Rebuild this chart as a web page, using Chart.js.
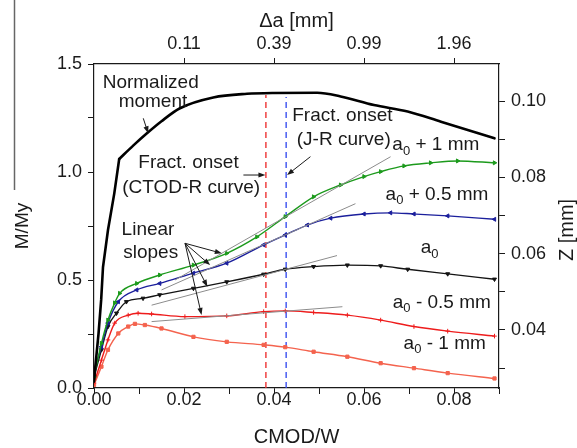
<!DOCTYPE html>
<html>
<head>
<meta charset="utf-8">
<script src="https://cdn.jsdelivr.net/npm/chart.js@4.4.1/dist/chart.umd.min.js"></script>
<style>
  html, body { margin: 0; padding: 0; background: #fff; }
  #wrap { width: 577px; height: 448px; }
</style>
</head>
<body>
<div id="wrap"><canvas id="chart" width="577" height="448"></canvas></div>
<script>
// Normalized moment M/My vs CMOD/W (left axis)
const momentX = [0, 0.0003, 0.001, 0.0016, 0.002, 0.0031, 0.0045, 0.0056, 0.0087, 0.0117, 0.015, 0.0191, 0.0265, 0.034, 0.040, 0.0496, 0.0548, 0.0622, 0.0697, 0.0771, 0.089];
const momentY = [0.03, 0.10, 0.25, 0.41, 0.56, 0.73, 0.90, 1.06, 1.122, 1.178, 1.235, 1.295, 1.345, 1.362, 1.366, 1.367, 1.35, 1.31, 1.28, 1.233, 1.156];
const momentKnee = 7; // index of the sharp knee

// Z [mm] curves (right axis)
const plus1X = [0, 0.00165, 0.0031, 0.0046, 0.0057, 0.0095, 0.0146, 0.0221, 0.0295, 0.0362, 0.0425, 0.0488, 0.0548, 0.0600, 0.0637, 0.0689, 0.0748, 0.0808, 0.0890];
const plus1Y = [0.0277, 0.0365, 0.0426, 0.0471, 0.0496, 0.0522, 0.0544, 0.0570, 0.0601, 0.0644, 0.0697, 0.0749, 0.0780, 0.0802, 0.0815, 0.0830, 0.0838, 0.0843, 0.0838];

const plus05X = [0, 0.00165, 0.0031, 0.0054, 0.0095, 0.0146, 0.0221, 0.0295, 0.0377, 0.0425, 0.0474, 0.0526, 0.0600, 0.0659, 0.0711, 0.0786, 0.0890];
const plus05Y = [0.0290, 0.0356, 0.0418, 0.0474, 0.0505, 0.0522, 0.0549, 0.0575, 0.0623, 0.0649, 0.0675, 0.0693, 0.0704, 0.0707, 0.0704, 0.0699, 0.0690];

const a0X = [0, 0.00165, 0.0031, 0.0050, 0.0072, 0.0109, 0.0146, 0.0221, 0.0295, 0.0377, 0.0425, 0.0488, 0.0563, 0.0637, 0.0697, 0.0786, 0.0890];
const a0Y = [0.0277, 0.0348, 0.0409, 0.0444, 0.0474, 0.0483, 0.0492, 0.0509, 0.0526, 0.0546, 0.0559, 0.0566, 0.0570, 0.0568, 0.0559, 0.0547, 0.0533];

const minus05X = [0, 0.00165, 0.0031, 0.0046, 0.0076, 0.0098, 0.0128, 0.0202, 0.0295, 0.0377, 0.0425, 0.0488, 0.0563, 0.0637, 0.0711, 0.0786, 0.0890];
const minus05Y = [0.0261, 0.0321, 0.0374, 0.0418, 0.0439, 0.0444, 0.0442, 0.0435, 0.0437, 0.0448, 0.0450, 0.0446, 0.0439, 0.0426, 0.0409, 0.0397, 0.0384];

const minus1X = [0, 0.00165, 0.0031, 0.0054, 0.0076, 0.0091, 0.0113, 0.0150, 0.0221, 0.0295, 0.0377, 0.0425, 0.0488, 0.0563, 0.0637, 0.0711, 0.0786, 0.0890];
const minus1Y = [0.0256, 0.0304, 0.0348, 0.0391, 0.0409, 0.0416, 0.0413, 0.0404, 0.0382, 0.0369, 0.0361, 0.0355, 0.0343, 0.0330, 0.0313, 0.0300, 0.0287, 0.0273];

// linear slopes (thin gray), start/end on the right axis
const slopePlus1X = [0.0180, 0.0659], slopePlus1Y = [0.0531, 0.0854];
const slopePlus05X = [0.0150, 0.0581], slopePlus05Y = [0.0505, 0.0731];
const slopeA0X = [0.0128, 0.0540], slopeA0Y = [0.0465, 0.0595];
const slopeMinus05X = [0.0128, 0.0552], slopeMinus05Y = [0.0422, 0.0461];

// fracture onset (CMOD/W) and top of the dashed lines (M/My)
const onsetCtod = 0.0382, onsetCtodTop = 1.356;
const onsetJr = 0.0427, onsetJrTop = 1.347;

// ticks
const bottomTicks = [0, 0.01, 0.02, 0.03, 0.04, 0.05, 0.06, 0.07, 0.08, 0.09];
const topTicks = [0.02, 0.04, 0.06, 0.08];
const topTickLabels = ['0.11', '0.39', '0.99', '1.96'];
const leftTicks = [0, 0.25, 0.5, 0.75, 1.0, 1.25, 1.5];
const rightTicks = [0.03, 0.04, 0.05, 0.06, 0.07, 0.08, 0.09, 0.10];

const FONT = "'Liberation Sans', Arial, Helvetica, sans-serif";
const INK = '#1a1a1a';

const pts = (xs, ys) => xs.map((x, i) => ({ x: x, y: ys[i] }));

// text notes, in CMOD/W and M/My units
const notes = [
    { text: 'Normalized', x: 0.0126, y: 1.412 },
    { text: 'moment', x: 0.0131, y: 1.324 },
    { text: 'Fract. onset', x: 0.0210, y: 1.042 },
    { text: '(CTOD-R curve)', x: 0.0216, y: 0.925 },
    { text: 'Fract. onset', x: 0.0552, y: 1.259 },
    { text: '(J-R curve)', x: 0.0555, y: 1.148 },
    { text: 'Linear', x: 0.0120, y: 0.731 },
    { text: 'slopes', x: 0.0126, y: 0.624 }
];
const curveNotes = [
    { rest: ' + 1 mm', x: 0.0663, y: 1.125 },
    { rest: ' + 0.5 mm', x: 0.0648, y: 0.894 },
    { rest: '', x: 0.0726, y: 0.648 },
    { rest: ' - 0.5 mm', x: 0.0664, y: 0.394 },
    { rest: ' - 1 mm', x: 0.0688, y: 0.207 }
];
const arrows = [
    [0.01095, 1.2486, 0.01204, 1.179],
    [0.0332, 0.986, 0.0381, 0.986],
    [0.0481, 1.071, 0.0429, 0.986],
    [0.02022, 0.670, 0.0284, 0.6236],
    [0.02022, 0.670, 0.0258, 0.569],
    [0.02022, 0.670, 0.0252, 0.469],
    [0.02022, 0.670, 0.0239, 0.338]
];

function drawArrow(ctx, x1, y1, x2, y2) {
    const ang = Math.atan2(y2 - y1, x2 - x1);
    const len = 7, half = 2.6;
    ctx.beginPath();
    ctx.moveTo(x1, y1);
    ctx.lineTo(x2 - Math.cos(ang) * len * 0.8, y2 - Math.sin(ang) * len * 0.8);
    ctx.stroke();
    ctx.beginPath();
    ctx.moveTo(x2, y2);
    ctx.lineTo(x2 - Math.cos(ang) * len - Math.sin(ang) * half, y2 - Math.sin(ang) * len + Math.cos(ang) * half);
    ctx.lineTo(x2 - Math.cos(ang) * len + Math.sin(ang) * half, y2 - Math.sin(ang) * len - Math.cos(ang) * half);
    ctx.closePath();
    ctx.fill();
}

const notesPlugin = {
    id: 'notes',
    afterDatasetsDraw(chart) {
        const { ctx, chartArea } = chart;
        const sx = chart.scales.x, sy = chart.scales.y;
        ctx.save();
        ctx.fillStyle = INK;
        ctx.strokeStyle = INK;
        ctx.lineWidth = 1;
        ctx.textBaseline = 'middle';

        ctx.font = '19px ' + FONT;
        ctx.textAlign = 'center';
        notes.forEach(n => ctx.fillText(n.text, sx.getPixelForValue(n.x), sy.getPixelForValue(n.y)));

        // a0 labels with subscript
        ctx.textAlign = 'left';
        curveNotes.forEach(n => {
            let px = sx.getPixelForValue(n.x);
            const py = sy.getPixelForValue(n.y);
            ctx.font = '19px ' + FONT;
            ctx.fillText('a', px, py);
            px += ctx.measureText('a').width;
            ctx.font = '13px ' + FONT;
            ctx.fillText('0', px, py + 6);
            px += ctx.measureText('0').width;
            ctx.font = '19px ' + FONT;
            ctx.fillText(n.rest, px, py);
        });

        arrows.forEach(a => drawArrow(ctx,
            sx.getPixelForValue(a[0]), sy.getPixelForValue(a[1]),
            sx.getPixelForValue(a[2]), sy.getPixelForValue(a[3])));

        // right axis title, reads bottom to top
        ctx.font = '20px ' + FONT;
        ctx.textAlign = 'center';
        ctx.translate(chartArea.right + 68, (chartArea.top + chartArea.bottom) / 2 + 4);
        ctx.rotate(-Math.PI / 2);
        ctx.fillText('Z [mm]', 0, 0);
        ctx.restore();

        // edge of the neighbouring panel in the scan
        ctx.save();
        ctx.strokeStyle = '#666';
        ctx.lineWidth = 1.5;
        ctx.beginPath();
        ctx.moveTo(14.5, 0);
        ctx.lineTo(14.5, 190);
        ctx.stroke();
        ctx.restore();
    }
};

function zSeries(label, xs, ys, color, style, rot) {
    return {
        label: label,
        data: pts(xs, ys),
        yAxisID: 'y1',
        borderColor: color,
        backgroundColor: color,
        borderWidth: 1.4,
        pointStyle: style,
        rotation: rot,
        pointRadius: 2.3,
        pointBorderWidth: 1,
        cubicInterpolationMode: 'monotone'
    };
}

function slope(xs, ys) {
    return {
        data: pts(xs, ys),
        yAxisID: 'y1',
        borderColor: '#8c8c8c',
        borderWidth: 1,
        pointRadius: 0
    };
}

function onset(x, top, color) {
    return {
        data: [{ x: x, y: 0 }, { x: x, y: top }],
        yAxisID: 'y',
        borderColor: color,
        borderWidth: 1.4,
        borderDash: [6, 4],
        pointRadius: 0
    };
}

// the moment curve: straight rise up to the knee, smooth after it
function momentPart(from, to, smooth) {
    return {
        label: 'Normalized moment',
        data: pts(momentX.slice(from, to), momentY.slice(from, to)),
        yAxisID: 'y',
        borderColor: '#000',
        borderWidth: 2.6,
        borderCapStyle: 'round',
        pointRadius: 0,
        cubicInterpolationMode: smooth ? 'monotone' : 'default',
        tension: 0
    };
}

const tickFont = { family: FONT, size: 18, lineHeight: 1 };
const titleFont = { family: FONT, size: 20, lineHeight: 1 };
const gridOpts = { drawOnChartArea: false, tickLength: 6, tickColor: INK };
const borderOpts = { color: INK, width: 1.2 };
const even = v => Math.round(v * 100) % 2 === 0;

new Chart(document.getElementById('chart'), {
    type: 'line',
    data: {
        datasets: [
            slope(slopePlus1X, slopePlus1Y),
            slope(slopePlus05X, slopePlus05Y),
            slope(slopeA0X, slopeA0Y),
            slope(slopeMinus05X, slopeMinus05Y),
            momentPart(0, momentKnee + 1, false),
            momentPart(momentKnee, momentX.length, true),
            zSeries('a0 + 1 mm', plus1X, plus1Y, '#1c9a1c', 'triangle', 90),
            zSeries('a0 + 0.5 mm', plus05X, plus05Y, '#1b1f9c', 'triangle', -90),
            zSeries('a0', a0X, a0Y, '#141414', 'triangle', 180),
            zSeries('a0 - 0.5 mm', minus05X, minus05Y, '#ee1c1c', 'cross', 0),
            zSeries('a0 - 1 mm', minus1X, minus1Y, '#f4634e', 'rect', 0),
            onset(onsetCtod, onsetCtodTop, '#ee3333'),
            onset(onsetJr, onsetJrTop, '#3b50f0')
        ]
    },
    options: {
        responsive: false,
        animation: false,
        layout: { padding: 0 },
        plugins: {
            legend: { display: false },
            tooltip: { enabled: false }
        },
        scales: {
            x: {
                type: 'linear',
                position: 'bottom',
                min: 0,
                max: 0.09,
                afterBuildTicks: s => { s.ticks = bottomTicks.map(v => ({ value: v })); },
                afterFit: s => { s.height = 60; },
                ticks: {
                    autoSkip: false, maxRotation: 0, padding: -3, color: INK, font: tickFont,
                    callback: v => (even(v) && v < 0.085 ? v.toFixed(2) : '')
                },
                grid: gridOpts,
                border: borderOpts,
                title: { display: true, text: 'CMOD/W', color: INK, font: titleFont, padding: { top: 0, bottom: 1 } }
            },
            x2: {
                type: 'linear',
                position: 'top',
                min: 0,
                max: 0.09,
                afterBuildTicks: s => { s.ticks = topTicks.map(v => ({ value: v })); },
                afterFit: s => { s.height = 64; },
                ticks: {
                    autoSkip: false, maxRotation: 0, padding: 5, color: INK, font: tickFont,
                    callback: (v, i) => topTickLabels[i]
                },
                grid: gridOpts,
                border: borderOpts,
                title: { display: true, text: 'Δa [mm]', color: INK, font: titleFont, padding: { top: 11, bottom: 0 } }
            },
            y: {
                type: 'linear',
                position: 'left',
                min: 0,
                max: 1.5,
                afterBuildTicks: s => { s.ticks = leftTicks.map(v => ({ value: v })); },
                afterFit: s => { s.width = 94; },
                ticks: {
                    autoSkip: false, padding: 6, color: INK, font: tickFont,
                    callback: v => (Math.round(v * 100) % 50 === 0 ? v.toFixed(1) : '')
                },
                grid: gridOpts,
                border: borderOpts,
                title: { display: true, text: 'M/My', color: INK, font: { family: FONT, size: 19, lineHeight: 1 }, padding: { top: 13, bottom: 0 } }
            },
            y1: {
                type: 'linear',
                position: 'right',
                min: 0.0248,
                max: 0.1097,
                afterBuildTicks: s => { s.ticks = rightTicks.map(v => ({ value: v })); },
                afterFit: s => { s.width = 78; },
                ticks: {
                    autoSkip: false, padding: 6, color: INK, font: tickFont,
                    callback: v => (even(v) ? v.toFixed(2) : '')
                },
                grid: gridOpts,
                border: borderOpts
            }
        }
    },
    plugins: [notesPlugin]
});
</script>
</body>
</html>
